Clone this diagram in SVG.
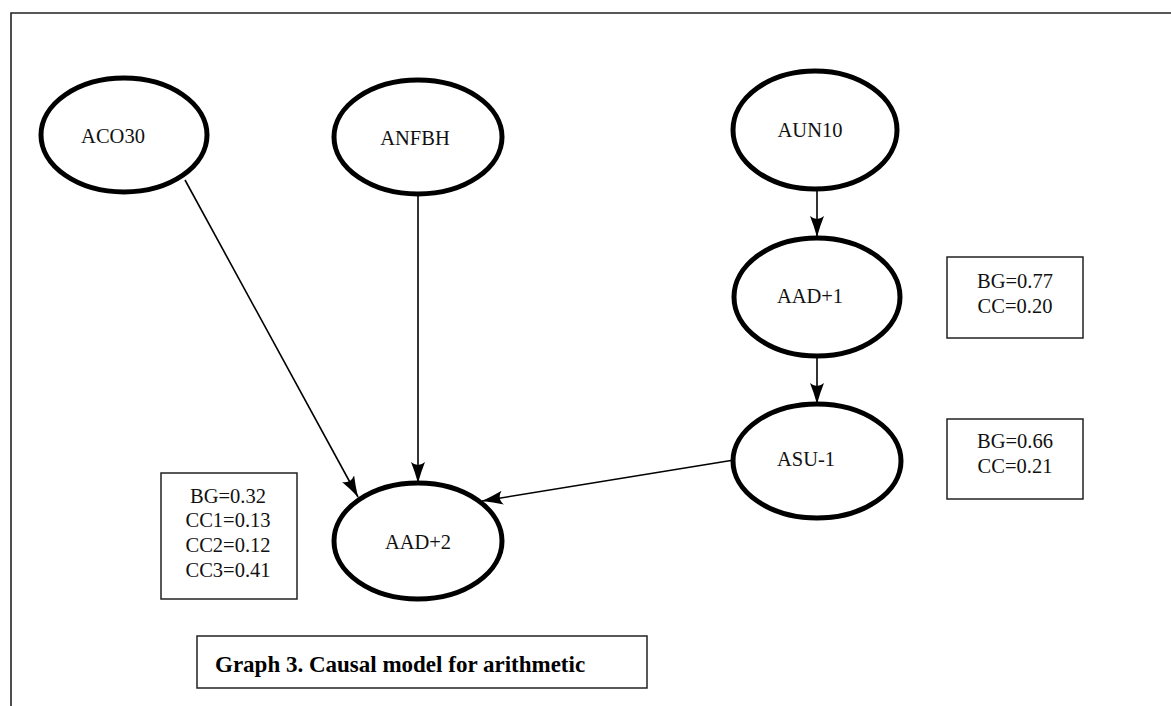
<svg xmlns="http://www.w3.org/2000/svg" width="1171" height="706" viewBox="0 0 1171 706">
  <style>
    .node ellipse { fill: #fff; stroke: #000; stroke-width: 5; }
    .node text, .note text { font-family: "Liberation Serif", "Times New Roman", serif; font-size: 20.5px; fill: #111; }
    .note rect { fill: #fff; stroke: #222; stroke-width: 1.5; }
    .edge { stroke: #000; stroke-width: 1.6; fill: none; marker-end: url(#arrow); }
    .caption text { font-family: "Liberation Serif", "Times New Roman", serif; font-size: 23px; font-weight: bold; fill: #000; }
  </style>
  <defs>
    <marker id="arrow" markerUnits="userSpaceOnUse" markerWidth="22" markerHeight="14" viewBox="0 0 22 14" refX="21" refY="7" orient="auto">
      <path d="M0,0 Q10,4 21,7 Q10,10 0,14 Q6,7 0,0 Z" fill="#000"/>
    </marker>
  </defs>

  <rect width="1171" height="706" fill="#fff"/>
  <!-- frame: open on the right and bottom -->
  <path d="M11,706 V13 H1171" fill="none" stroke="#222" stroke-width="1.6"/>

  <g id="connectors">
    <line class="edge" x1="185" y1="180" x2="358" y2="497"/>
    <line class="edge" x1="418" y1="194" x2="418" y2="483"/>
    <line class="edge" x1="734" y1="460" x2="482" y2="501"/>
    <line class="edge" x1="817" y1="190" x2="817" y2="237"/>
    <line class="edge" x1="817" y1="357" x2="817" y2="404"/>
  </g>

  <g id="node-aco30" class="node">
    <ellipse cx="124" cy="135" rx="83" ry="57"/>
    <text x="113" y="143" text-anchor="middle">ACO30</text>
  </g>
  <g id="node-anfbh" class="node">
    <ellipse cx="418" cy="137" rx="84" ry="57"/>
    <text x="415" y="145" text-anchor="middle">ANFBH</text>
  </g>
  <g id="node-aun10" class="node">
    <ellipse cx="815" cy="130" rx="82" ry="59"/>
    <text x="810" y="137" text-anchor="middle">AUN10</text>
  </g>
  <g id="node-aad1" class="node">
    <ellipse cx="817" cy="297" rx="83" ry="59"/>
    <text x="810" y="303" text-anchor="middle">AAD+1</text>
  </g>
  <g id="node-asu1" class="node">
    <ellipse cx="817" cy="461" rx="84" ry="57"/>
    <text x="806" y="466" text-anchor="middle">ASU-1</text>
  </g>
  <g id="node-aad2" class="node">
    <ellipse cx="418" cy="541" rx="84" ry="58"/>
    <text x="418" y="549" text-anchor="middle">AAD+2</text>
  </g>

  <g id="note-aad1" class="note">
    <rect x="947" y="257" width="136" height="81"/>
    <text x="1015" y="288" text-anchor="middle">BG=0.77</text>
    <text x="1015" y="313" text-anchor="middle">CC=0.20</text>
  </g>
  <g id="note-asu1" class="note">
    <rect x="947" y="419" width="136" height="80"/>
    <text x="1015" y="448" text-anchor="middle">BG=0.66</text>
    <text x="1015" y="473" text-anchor="middle">CC=0.21</text>
  </g>
  <g id="note-aad2" class="note">
    <rect x="161" y="473" width="136" height="126"/>
    <text x="228" y="503" text-anchor="middle">BG=0.32</text>
    <text x="228" y="527" text-anchor="middle">CC1=0.13</text>
    <text x="228" y="552" text-anchor="middle">CC2=0.12</text>
    <text x="228" y="577" text-anchor="middle">CC3=0.41</text>
  </g>

  <g id="caption" class="caption">
    <rect x="197" y="636" width="450" height="52" fill="#fff" stroke="#222" stroke-width="1.5"/>
    <text x="215" y="672">Graph 3. Causal model for arithmetic</text>
  </g>
</svg>
